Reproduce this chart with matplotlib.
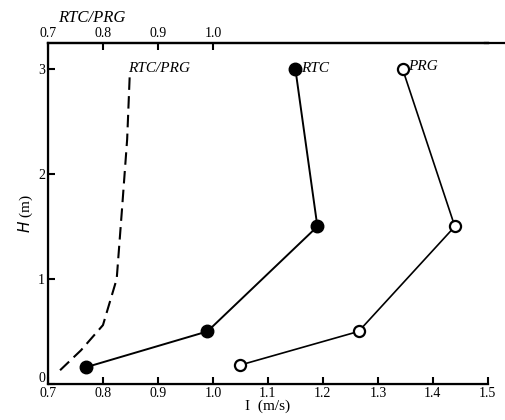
import matplotlib
matplotlib.use("Agg")
import matplotlib.pyplot as plt
import matplotlib.transforms as mtransforms
from matplotlib.lines import Line2D

# values
rtc_u = [0.77, 0.99, 1.19, 1.15]
rtc_h = [0.16, 0.50, 1.50, 3.00]
prg_u = [1.05, 1.265, 1.44, 1.345]
prg_h = [0.18, 0.50, 1.50, 3.00]
ratio_u = [0.722, 0.76, 0.80, 0.825, 0.835, 0.844, 0.849]
ratio_h = [0.13, 0.32, 0.56, 1.00, 1.69, 2.33, 2.98]

x_ticks = [0.7, 0.8, 0.9, 1.0, 1.1, 1.2, 1.3, 1.4, 1.5]
top_ticks = [0.7, 0.8, 0.9, 1.0]
y_ticks = [0, 1, 2, 3]

plt.rcParams["font.family"] = ["Liberation Serif", "DejaVu Serif"]

fig = plt.figure(figsize=(5.05, 4.2), dpi=100)
ax = fig.add_axes([0.095, 0.086, 0.871, 0.812])

ax.plot(rtc_u, rtc_h, color="black", lw=1.4, marker="o", ms=9,
        markerfacecolor="black", zorder=3)
ax.plot(prg_u, prg_h, color="black", lw=1.2, marker="o", ms=8,
        markerfacecolor="white", markeredgewidth=1.6, zorder=3)
ax.plot(ratio_u, ratio_h, color="black", lw=1.5, ls=(0, (6, 3)))

ax.set_xlim(0.7, 1.5)
ax.set_ylim(0, 3.25)
ax.set_xticks(x_ticks)
ax.set_xticklabels([f"{v:.1f}" for v in x_ticks])
ax.set_yticks(y_ticks)
ax.tick_params(direction="in", length=5, width=1.5, labelsize=10, pad=2)
for side in ["left", "bottom", "top"]:
    ax.spines[side].set_linewidth(1.6)
ax.spines["right"].set_visible(False)

# lift the "0" label a bit so it sits above the 0.7 label
lift = mtransforms.ScaledTranslation(0, 5 / 72, fig.dpi_scale_trans)
zero_label = ax.get_yticklabels()[0]
zero_label.set_transform(zero_label.get_transform() + lift)

top = ax.twiny()
top.set_xlim(0.7, 1.5)
top.set_xticks(top_ticks)
top.set_xticklabels([f"{v:.1f}" for v in top_ticks])
top.tick_params(direction="in", length=5, width=1.5, labelsize=10, pad=2)
top.spines["right"].set_visible(False)
top.spines["top"].set_linewidth(1.6)
fig.add_artist(Line2D([0.96, 1.0], [0.898, 0.898], color="black", lw=1.6))
top.set_xlabel("RTC/PRG", fontstyle="italic", fontsize=12, labelpad=1)
top.xaxis.set_label_coords(0.1, 1.06)

ax.set_xlabel("I  (m/s)", fontsize=11, labelpad=0)
ax.set_ylabel("$H$ (m)", fontsize=11, labelpad=2)

ax.text(0.845, 2.97, "RTC/PRG", fontstyle="italic", fontsize=11)
ax.text(1.16, 2.97, "RTC", fontstyle="italic", fontsize=11)
ax.text(1.355, 2.99, "PRG", fontstyle="italic", fontsize=11)

fig.savefig("out.png", dpi=100)
